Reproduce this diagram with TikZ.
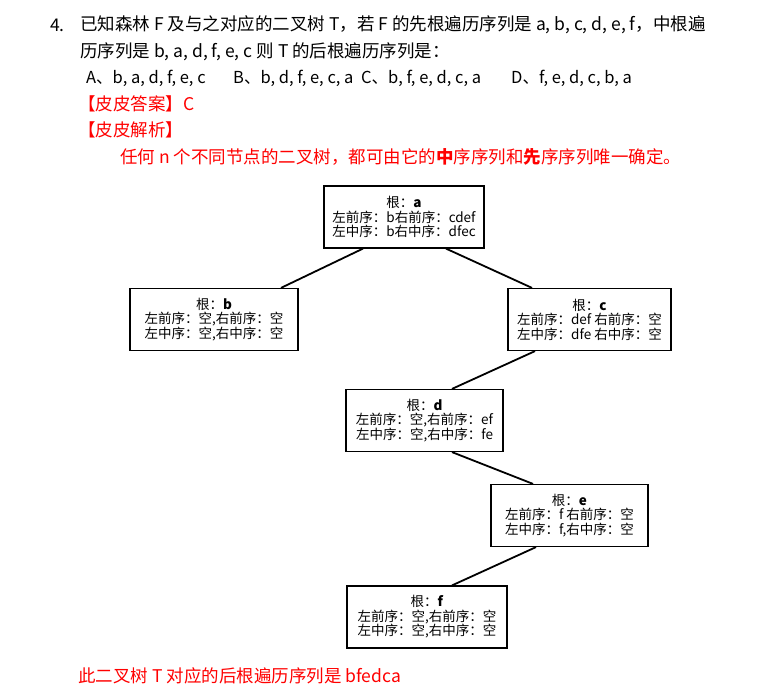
\documentclass[tikz,border=0pt]{standalone}
\usepackage{fontspec}
\setmainfont{Noto Sans CJK SC}
\usepackage{xcolor}
\usepackage{tikz}

\begin{document}
\begin{tikzpicture}[
    x=1pt, y=-1pt,
    treenode/.style={rectangle, draw, line width=1.2pt, align=center, minimum height=62pt, inner sep=2pt, font=\fontsize{13.5}{14.5}\selectfont},
    branch/.style={line width=1.8pt},
    question/.style={anchor=west, inner sep=0pt, font=\fontsize{17.5}{20}\selectfont},
    option/.style={question, font=\fontsize{16.5}{20}\selectfont},
    answer/.style={question, text=red}
  ]

    \fill[white] (0,0) rectangle (779,695);
    \useasboundingbox (0,0) rectangle (779,695);

    % Question
    \node[question] (num) at (50,25) {4.};
    \node[question] (q1) at (80,25) {已知森林 F 及与之对应的二叉树 T，若 F 的先根遍历序列是 a, b, c, d, e, f，中根遍};
    \node[question] (q2) at (80,52) {历序列是 b, a, d, f, e, c 则 T 的后根遍历序列是：};

    % Options
    \node[option] (optA) at (86,78) {A、b, a, d, f, e, c};
    \node[option] (optB) at (233,78) {B、b, d, f, e, c, a};
    \node[option] (optC) at (361,78) {C、b, f, e, d, c, a};
    \node[option] (optD) at (511,78) {D、f, e, d, c, b, a};

    % Answer and analysis
    \node[answer] (ans) at (78,104) {【皮皮答案】C};
    \node[answer] (ana) at (78,130) {【皮皮解析】};
    \node[answer] (hint) at (120,157) {任何 n 个不同节点的二叉树，都可由它的\textbf{中}序序列和\textbf{先}序序列唯一确定。};

    % Tree nodes
    \node[treenode, minimum width=160pt] (a) at (404,217) {根：\textbf{a}\\左前序：b右前序：cdef\\左中序：b右中序：dfec};
    \node[treenode, minimum width=168pt] (b) at (214,319.5) {根：\textbf{b}\\左前序：空,右前序：空\\左中序：空,右中序：空};
    \node[treenode, minimum width=163pt] (c) at (589.5,319.5) {根：\textbf{c}\\左前序：def 右前序：空\\左中序：dfe 右中序：空};
    \node[treenode, minimum width=157pt] (d) at (424.5,420.5) {根：\textbf{d}\\左前序：空,右前序：ef\\左中序：空,右中序：fe};
    \node[treenode, minimum width=157pt] (e) at (569.5,515.5) {根：\textbf{e}\\左前序：f 右前序：空\\左中序：f,右中序：空};
    \node[treenode, minimum width=160pt] (f) at (427,617) {根：\textbf{f}\\左前序：空,右前序：空\\左中序：空,右中序：空};

    % Branches
    \draw[branch] ([xshift=-41pt]a.south) -- ([xshift=67pt]b.north);
    \draw[branch] ([xshift=42pt]a.south) -- ([xshift=-57.5pt]c.north);
    \draw[branch] ([xshift=-54.5pt]c.south) -- ([xshift=27.5pt]d.north);
    \draw[branch] ([xshift=27.5pt]d.south) -- ([xshift=-36.5pt]e.north);
    \draw[branch] ([xshift=-33.5pt]e.south) -- ([xshift=25pt]f.north);

    % Result
    \node[answer] (post) at (78,676) {此二叉树 T 对应的后根遍历序列是 bfedca};

  \end{tikzpicture}
\end{document}
